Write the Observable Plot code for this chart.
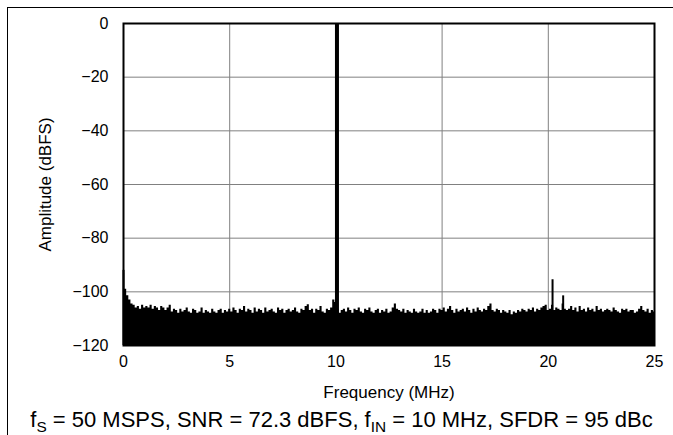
<!DOCTYPE html>
<html><head><meta charset="utf-8">
<script src="https://cdn.jsdelivr.net/npm/d3@7"></script>
<script src="https://cdn.jsdelivr.net/npm/@observablehq/plot@0.6"></script>
<style>
body{margin:0;background:#fff;}
#wrap{position:relative;width:673px;height:435px;overflow:hidden;font-family:Arial,"Liberation Sans",sans-serif;background:#fff;}
#border{position:absolute;left:7px;top:7px;width:700px;height:500px;border-top:1.5px solid #000;border-left:1.5px solid #000;}
#chart{position:absolute;left:0;top:0;}
#caption{position:absolute;top:407px;left:5px;width:673px;text-align:center;font-size:22px;line-height:26px;color:#000;white-space:nowrap;}
#caption sub{font-size:0.7em;vertical-align:baseline;position:relative;top:0.35em;}
</style></head>
<body><div id="wrap"><div id="border"></div><div id="chart"></div>
<div id="caption">f<sub>S</sub> = 50 MSPS, SNR = 72.3 dBFS, f<sub>IN</sub> = 10 MHz, SFDR = 95 dBc</div></div>
<script>
const xLabel = "Frequency (MHz)";
const yLabel = "Amplitude (dBFS)";
const xTicks = [0, 5, 10, 15, 20, 25];
const yTicks = [-120, -100, -80, -60, -40, -20, 0];
const binMHz = 0.1;
// noise floor (dBFS), one value per 0.1 MHz bin from 0 to 25 MHz
const noiseDb = [
 -93, -99, -101.5, -103, -104.5, -105, -106, -105.5, -106.5, -105,
 -106, -105.5, -106, -105, -106.5, -105.5, -106, -107, -105.5, -106,
 -107, -106, -105, -107.5, -106.5, -107, -108, -106.5, -107.5, -107,
 -106, -107.5, -108, -106.5, -107, -108, -107.5, -106, -108, -107,
 -107.5, -108, -106.5, -107.5, -108, -107, -106.5, -108, -107, -107.5,
 -106.5, -107.5, -106, -107, -108, -106.5, -107, -105.5, -107.5, -106.5,
 -107, -108, -106, -107.5, -106.5, -107, -108, -106, -107.5, -107,
 -106.5, -107.5, -108, -106, -107, -106.5, -108, -107, -106.5, -107.5,
 -107, -106, -107.5, -108, -106.5, -107, -105.5, -104.8, -107, -106.5,
 -108, -106.5, -107, -105.5, -107.5, -108, -106.5, -107, -106, -103,
 -104, -106.5, -108, -107, -106.5, -107.5, -106, -107, -108, -106.5,
 -107, -106, -107.5, -108, -106.5, -107, -106, -107.5, -108, -107,
 -106.5, -108, -107, -107.5, -106.5, -108, -107.5, -106, -104.5, -106.5,
 -107, -107.5, -106.5, -108, -107, -107.5, -108, -106.5, -107.5, -108,
 -107.5, -106.5, -108, -107, -108, -107.5, -106.5, -107, -108, -106.5,
 -107, -106, -107.5, -106.5, -105.5, -107, -108, -106.5, -107.5, -107,
 -106.5, -107.5, -106, -107, -108, -106.5, -107.5, -106, -107, -107.5,
 -106.5, -107, -105.5, -104.5, -107, -107.5, -106.5, -107, -108, -107,
 -107.5, -108, -107, -108.5, -107.5, -108, -107, -107.5, -106.5, -107,
 -107.5, -106.5, -107, -106, -107.5, -106.5, -107, -106, -105.5, -105,
 -107, -106.5, -105, -107, -106, -106.5, -107, -104.5, -106.5, -107,
 -106.5, -105.5, -107, -106, -107.5, -105.5, -107, -106.5, -107.5, -106,
 -107, -106.5, -107.5, -105.5, -107, -106.5, -107.5, -107, -106.5, -107,
 -107.5, -106, -107, -107.5, -108, -106.5, -107, -106.5, -107.5, -107,
 -107, -108, -107.5, -106.5, -105.5, -107, -107.5, -106.5, -108, -107,
 -107.5
];
const fundamental = [{f: 10.05, db: 0}];
const spurs = [{f: 0, db: -92}, {f: 20.2, db: -95.5}, {f: 20.7, db: -101.5}];

const noise = noiseDb.map((db, i) => ({f: i * binMHz, db}));
const floorDb = yTicks[0];

const chart = Plot.plot({
  width: 673, height: 410,
  marginLeft: 123, marginRight: 19, marginTop: 23, marginBottom: 65,
  style: {fontFamily: "Arial, 'Liberation Sans', sans-serif", fontSize: "16px", color: "#000", background: "transparent"},
  x: {domain: [0, 25], ticks: xTicks, tickSize: 0, tickPadding: 10, label: null},
  y: {domain: [-120, 0], ticks: yTicks, tickSize: 0, tickPadding: 15, label: null},
  marks: [
    Plot.gridX(xTicks.slice(1, -1), {stroke: "#808080", strokeOpacity: 1, strokeWidth: 1}),
    Plot.gridY(yTicks.slice(1, -1), {stroke: "#808080", strokeOpacity: 1, strokeWidth: 1}),
    Plot.areaY(noise, {x: "f", y1: floorDb, y2: "db", curve: "step", fill: "#000"}),
    Plot.ruleX(spurs, {x: "f", y1: floorDb, y2: "db", stroke: "#000", strokeWidth: 2}),
    Plot.ruleX(fundamental, {x: "f", y1: floorDb, y2: "db", stroke: "#000", strokeWidth: 4}),
    Plot.frame({stroke: "#000", strokeWidth: 2}),
    Plot.text([xLabel], {frameAnchor: "bottom", dy: 47, text: d => d, fontSize: 17, lineAnchor: "middle", textAnchor: "middle"}),
    Plot.text([yLabel], {frameAnchor: "left", dx: -78, rotate: -90, text: d => d, fontSize: 17, lineAnchor: "middle", textAnchor: "middle"})
  ]
});
document.getElementById("chart").appendChild(chart);
</script></body></html>
